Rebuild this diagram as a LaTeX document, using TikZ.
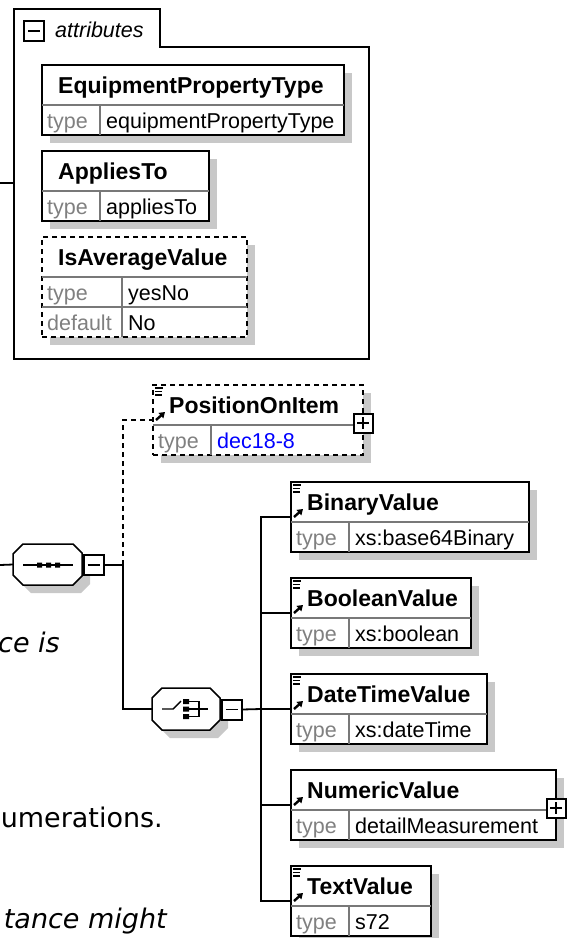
\documentclass[tikz,border=0pt]{standalone}
\usepackage{fontspec}
\setmainfont{Liberation Sans}
\newfontfamily\verdfont{DejaVu Sans}
\usetikzlibrary{arrows.meta}
\definecolor{shadowc}{RGB}{200,200,200}
\definecolor{typegray}{RGB}{128,128,128}
\definecolor{divgray}{RGB}{120,120,120}
\definecolor{linkblue}{RGB}{0,0,255}
\tikzset{
  elbox/.style={draw=black, line width=1.8pt, fill=white, inner sep=0pt, outer sep=0pt},
  dashbox/.style={dash pattern=on 5pt off 4pt, line width=1.6pt},
  divline/.style={draw=divgray, line width=1.2pt},
  conn/.style={draw=black, line width=1.8pt, line join=miter},
  dconn/.style={draw=black, line width=1.6pt, dash pattern=on 5pt off 4pt},
  titlef/.style={font=\fontsize{23}{26}\selectfont\bfseries, inner sep=0pt, anchor=base west},
  typef/.style={font=\fontsize{21.5}{24}\selectfont, text=typegray, inner sep=0pt, anchor=base west},
  valf/.style={font=\fontsize{21.5}{24}\selectfont, inner sep=0pt, anchor=base west},
  pmbox/.style={draw=black, line width=2pt, fill=white, minimum size=20pt, inner sep=0pt, outer sep=0pt},
  compnode/.style={inner sep=0pt, outer sep=0pt},
  compshape/.style={draw=black, line width=1.5pt, fill=white},
  lefttext/.style={font=\verdfont\fontsize{27}{32}\selectfont, inner sep=0pt, anchor=base east},
  iconline/.style={line width=1.2pt},
  iconarrow/.style={line width=2.4pt, -{Triangle[length=5.5pt,width=7pt]}}
}
% element box: #1 extra style, #2 name, #3 x, #4 y, #5 width, #6 title, #7 value
\newcommand{\xelem}[7]{%
  \fill[shadowc] (#3+8,#4+8) rectangle ++(#5,70);
  \node[elbox,#1,minimum width=#5pt,minimum height=70pt,anchor=north west] (#2) at (#3,#4) {};
  \draw[divline] (#3,#4+40) -- ++(#5,0);
  \draw[divline] (#3+58,#4+40) -- (#3+58,#4+70);
  \node[titlef] (#2-title) at (#3+16,#4+28) {#6};
  \node[typef] (#2-type) at (#3+5,#4+63) {type};
  \node[valf] (#2-val) at (#3+64,#4+63) {#7};
  \coordinate (#2-in) at (#3,#4+35);
}
\newcommand{\xlines}[2]{%
  \draw[iconline] (#1+2,#2+3) -- ++(8,0) (#1+2,#2+6.5) -- ++(7,0) (#1+2,#2+10) -- ++(7,0);
}
\newcommand{\xarrow}[2]{%
  \draw[iconarrow] (#1+3,#2+35) -- (#1+12,#2+27);
}
\begin{document}
\begin{tikzpicture}[x=1pt,y=-1pt]
\useasboundingbox (0,0) rectangle (568,938);

% ---------- attributes container ----------
\draw[line width=1.8pt, line join=miter] (14,9) -- (160,9) -- (160,47) -- (369,47) -- (369,359) -- (14,359) -- cycle;
\coordinate (attrW) at (14,183);
\coordinate (attrIn) at (0,183);
\draw[conn] (attrIn) -- (attrW);
\node[pmbox] (attrm) at (34,31) {};
\draw[line width=1.8pt] ([xshift=4pt]attrm.west) -- ([xshift=-4pt]attrm.east);
\node[font=\fontsize{21.5}{24}\selectfont\itshape, inner sep=0pt, anchor=base west] (attrlbl) at (55,37) {attributes};

\xelem{}{ept}{42}{65}{302}{EquipmentPropertyType}{equipmentPropertyType}
\xelem{}{app}{42}{151}{167}{AppliesTo}{appliesTo}

% IsAverageValue (two rows)
\fill[shadowc] (50,245) rectangle ++(205,100);
\node[elbox,dashbox,minimum width=205pt,minimum height=100pt,anchor=north west] (iav) at (42,237) {};
\draw[divline] (42,277) -- ++(205,0);
\draw[divline] (42,307) -- ++(205,0);
\draw[divline] (122,277) -- (122,337);
\node[titlef] (iav-title) at (58,265) {IsAverageValue};
\node[typef] (iav-type) at (47,300) {type};
\node[valf] (iav-val) at (128,300) {yesNo};
\node[typef] (iav-deft) at (47,330) {default};
\node[valf] (iav-defv) at (128,330) {No};

% ---------- sequence compositor ----------
\fill[shadowc] (31,552) -- (81,552) -- (90,561) -- (90,584) -- (81,593) -- (31,593) -- (21,583) -- (21,562) -- cycle;
\draw[compshape] (23,544) -- (73,544) -- (82,553) -- (82,576) -- (73,585) -- (23,585) -- (13,575) -- (13,554) -- cycle;
\node[compnode, minimum width=69pt, minimum height=41pt] (seq) at (47.5,564.5) {};
\draw[line width=1.5pt] (23,565) -- (73,565);
\fill (37,562.5) rectangle ++(5,5) (46,562.5) rectangle ++(5,5) (55,562.5) rectangle ++(5,5);
\node[pmbox] (seqm) at (93.5,565) {};
\draw[line width=1.8pt] ([xshift=4pt]seqm.west) -- ([xshift=-4pt]seqm.east);
\coordinate (seqIn) at (0,565);
\draw[conn] (seqIn) -- (seq.west);
\coordinate (j1) at (123,565);
\draw[conn] (seqm.east) -- (j1);

% ---------- PositionOnItem ----------
\xelem{dashbox}{pos}{153}{385}{210}{PositionOnItem}{\textcolor{linkblue}{dec18-8}}
\xlines{153}{385}
\xarrow{153}{385}
\node[pmbox, minimum size=19pt] (posp) at (363,423) {};
\draw[line width=1.6pt] ([xshift=3.5pt]posp.west) -- ([xshift=-3.5pt]posp.east)
  ([yshift=-3.5pt]posp.north) -- ([yshift=3.5pt]posp.south);
\draw[dconn] (j1) |- (pos-in);

% ---------- choice compositor ----------
\fill[shadowc] (170,696) -- (218,696) -- (228,706) -- (228,728) -- (218,738) -- (170,738) -- (160,728) -- (160,706) -- cycle;
\draw[compshape] (162,688) -- (210,688) -- (220,698) -- (220,720) -- (210,730) -- (162,730) -- (152,720) -- (152,698) -- cycle;
\node[compnode, minimum width=68pt, minimum height=42pt] (cho) at (186,709) {};
\draw[line width=1.4pt] (162,709) -- (173,709) -- (181,701);
\fill (183,699) rectangle ++(6,5) (183,706.5) rectangle ++(6,5) (183,714) rectangle ++(6,5);
\draw[line width=1.2pt] (189,701.5) -- (199,701.5) -- (199,716.5) -- (189,716.5)
  (189,709) -- (208,709);
\node[pmbox] (chom) at (232,709.5) {};
\draw[line width=1.8pt] ([xshift=4pt]chom.west) -- ([xshift=-4pt]chom.east);
\draw[conn] (j1) |- (cho.west);
\coordinate (j2) at (261,709);
\draw[conn] (chom.east) -- (j2);

% ---------- choice children ----------
\xelem{}{bin}{291}{482}{238}{BinaryValue}{xs:base64Binary}
\xlines{291}{482}\xarrow{291}{482}
\xelem{}{boo}{291}{578}{180}{BooleanValue}{xs:boolean}
\xlines{291}{578}\xarrow{291}{578}
\xelem{}{dtv}{291}{674}{196}{DateTimeValue}{xs:dateTime}
\xlines{291}{674}\xarrow{291}{674}
\xelem{}{num}{291}{770}{265}{NumericValue}{detailMeasurement}
\xarrow{291}{770}
\node[pmbox, minimum size=19pt] (nump) at (556,808) {};
\draw[line width=1.6pt] ([xshift=3.5pt]nump.west) -- ([xshift=-3.5pt]nump.east)
  ([yshift=-3.5pt]nump.north) -- ([yshift=3.5pt]nump.south);
\xelem{}{txt}{291}{866}{140}{TextValue}{s72}
\xlines{291}{866}\xarrow{291}{866}

\draw[conn] (j2) |- (bin-in);
\draw[conn] (j2) |- (boo-in);
\draw[conn] (j2) -- (dtv-in);
\draw[conn] (j2) |- (num-in);
\draw[conn] (j2) |- (txt-in);

% ---------- clipped page text ----------
\node[lefttext] (t1) at (60,652) {\itshape ce is};
\node[lefttext] (t2) at (163,827) {umerations.};
\node[lefttext] (t3) at (167,928) {\itshape tance might};
\end{tikzpicture}
\end{document}
